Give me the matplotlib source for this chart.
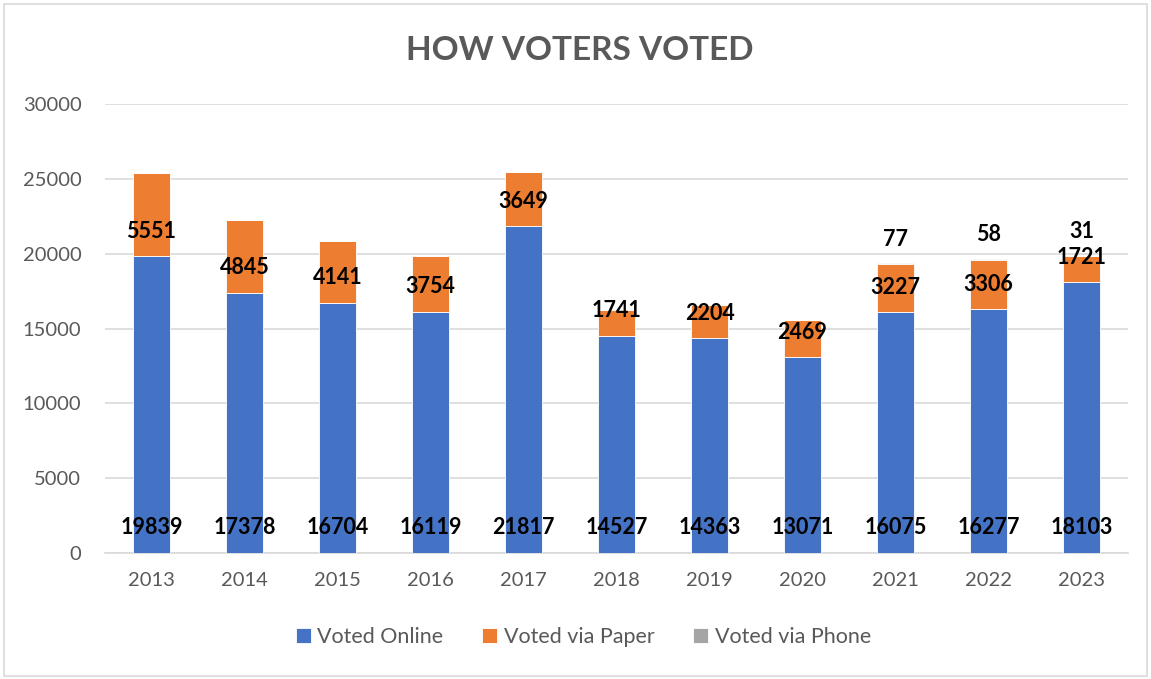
import matplotlib.pyplot as plt
from matplotlib.patches import Rectangle
import numpy as np

years = ['2013', '2014', '2015', '2016', '2017', '2018', '2019', '2020', '2021', '2022', '2023']
online = [19839, 17378, 16704, 16119, 21817, 14527, 14363, 13071, 16075, 16277, 18103]
paper = [5551, 4845, 4141, 3754, 3649, 1741, 2204, 2469, 3227, 3306, 1721]
phone = [0, 0, 0, 0, 0, 0, 0, 0, 77, 58, 31]

series = [
	('Voted Online', online, '#4472C4'),
	('Voted via Paper', paper, '#ED7D31'),
	('Voted via Phone', phone, '#A5A5A5'),
]

plt.rcParams['font.family'] = ['Lato', 'DejaVu Sans']

fig = plt.figure(figsize=(11.51, 6.79), dpi=100)
ax = fig.add_axes([105 / 1151, 126 / 679, 1023 / 1151, 449 / 679])

x = np.arange(len(years))
base = np.zeros(len(years))
for name, vals, color in series:
	vals = np.array(vals, dtype=float)
	ax.bar(x, vals, 0.4, bottom=base, color=color, edgecolor='white', linewidth=0.6, label=name, zorder=3)
	# labels sit just above the bottom of each segment
	for xi, b, v in zip(x, base, vals):
		if v > 0:
			ax.annotate(str(int(v)), (xi, b), xytext=(0, 18), textcoords='offset points',
						ha='center', va='center', fontsize=15.5, fontweight='bold', color='black', zorder=4)
	base = base + vals

ax.set_xlim(-0.5, len(years) - 0.5)
ax.set_ylim(0, 30000)
ax.set_yticks(range(0, 30001, 5000))
ax.set_xticks(x)
ax.set_xticklabels(years)
ax.grid(axis='y', color='#D9D9D9', linewidth=1.2, zorder=0)
for s in ['top', 'right', 'left']:
	ax.spines[s].set_visible(False)
ax.spines['bottom'].set_color('#D9D9D9')
ax.spines['bottom'].set_linewidth(1.2)
ax.tick_params(axis='both', length=0, labelsize=14.5, labelcolor='#595959')
ax.tick_params(axis='y', pad=17)
ax.tick_params(axis='x', pad=14)

fig.text(0.504, 0.926, 'HOW VOTERS VOTED', ha='center', va='center', fontsize=24,
		 fontweight='bold', color='#595959')

fig.legend(loc='center', bbox_to_anchor=(0.507, 0.062), ncol=3, frameon=False, fontsize=15.5,
		   handlelength=0.7, handleheight=0.7, handletextpad=0.3, columnspacing=1.8,
		   labelcolor='#595959')

fig.patches.append(Rectangle((4 / 1151, 3 / 679), 1143 / 1151, 672 / 679, transform=fig.transFigure,
							 fill=False, edgecolor='#D9D9D9', linewidth=1.2))

fig.savefig('out.png', dpi=100)
